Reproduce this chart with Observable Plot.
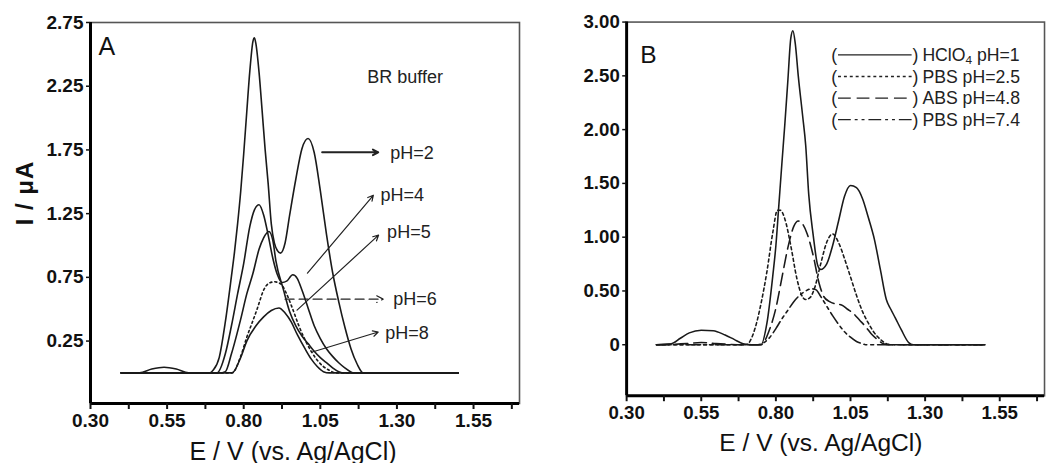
<!DOCTYPE html>
<html><head><meta charset="utf-8">
<script src="https://cdn.jsdelivr.net/npm/d3@7"></script>
<script src="https://cdn.jsdelivr.net/npm/@observablehq/plot@0.6"></script>
<style>
html,body{margin:0;padding:0;background:#fff;overflow:hidden;}
#wrap{position:relative;width:1046px;height:463px;overflow:hidden;background:#fff;}
#a{position:absolute;left:0;top:0;}
#b{position:absolute;left:530px;top:0;}
</style></head><body>
<div id="wrap"><div id="a"></div><div id="b"></div></div>
<script>
const FONT = "'Liberation Sans', Arial, Helvetica, sans-serif";

// ---------- Panel A: BR buffer, pH series ----------
const A_pH2 = [[0.40,0],[0.46,0],[0.50,0.03],[0.54,0.045],[0.58,0.03],[0.62,0],[0.69,0],[0.70,0.02],[0.72,0.12],[0.74,0.40],[0.76,0.76],[0.77,0.95],[0.78,1.17],[0.79,1.42],[0.80,1.72],[0.81,2.05],[0.82,2.37],[0.83,2.60],[0.835,2.63],[0.84,2.58],[0.85,2.36],[0.86,2.06],[0.87,1.75],[0.88,1.48],[0.89,1.17],[0.90,1.02],[0.91,0.96],[0.92,0.94],[0.935,1.02],[0.95,1.24],[0.97,1.52],[0.99,1.76],[1.01,1.84],[1.03,1.73],[1.05,1.43],[1.07,1.09],[1.09,0.79],[1.11,0.56],[1.13,0.36],[1.15,0.19],[1.17,0.07],[1.19,0],[1.50,0]];
const A_pH4 = [[0.40,0],[0.70,0],[0.713,0],[0.74,0.15],[0.76,0.37],[0.78,0.62],[0.80,0.86],[0.82,1.15],[0.835,1.28],[0.85,1.32],[0.865,1.24],[0.88,1.08],[0.895,0.90],[0.91,0.77],[0.925,0.71],[0.94,0.72],[0.96,0.77],[0.975,0.74],[0.99,0.65],[1.01,0.51],[1.03,0.37],[1.05,0.27],[1.07,0.19],[1.09,0.13],[1.11,0.08],[1.13,0.04],[1.16,0],[1.50,0]];
const A_pH5 = [[0.40,0],[0.72,0],[0.74,0.01],[0.76,0.15],[0.79,0.42],[0.81,0.62],[0.83,0.78],[0.85,0.97],[0.865,1.06],[0.882,1.11],[0.895,1.04],[0.905,0.88],[0.93,0.65],[0.95,0.48],[0.97,0.37],[0.99,0.29],[1.01,0.23],[1.03,0.17],[1.05,0.12],[1.07,0.08],[1.09,0.04],[1.11,0.01],[1.13,0],[1.50,0]];
const A_pH6 = [[0.40,0],[0.75,0],[0.762,0],[0.79,0.13],[0.81,0.28],[0.83,0.41],[0.845,0.51],[0.865,0.65],[0.88,0.70],[0.90,0.715],[0.92,0.70],[0.94,0.62],[0.96,0.50],[0.98,0.37],[1.00,0.26],[1.02,0.17],[1.04,0.10],[1.06,0.05],[1.08,0.02],[1.10,0],[1.50,0]];
const A_pH8 = [[0.40,0],[0.75,0],[0.762,0],[0.79,0.12],[0.81,0.25],[0.84,0.37],[0.865,0.44],[0.89,0.49],[0.915,0.51],[0.935,0.47],[0.955,0.40],[0.975,0.30],[1.00,0.19],[1.02,0.11],[1.04,0.05],[1.06,0.01],[1.08,0],[1.50,0]];
const seriesA = [
  {name:"pH=2", pts:A_pH2, dash:null},
  {name:"pH=4", pts:A_pH4, dash:null},
  {name:"pH=5", pts:A_pH5, dash:null},
  {name:"pH=6", pts:A_pH6, dash:"2,3"},
  {name:"pH=8", pts:A_pH8, dash:null}
];
// annotation labels (E, I) and arrows
const labelsA = [
  {text:"BR buffer", E:1.203, I:2.32},
  {text:"pH=2", E:1.278, I:1.723},
  {text:"pH=4", E:1.246, I:1.394},
  {text:"pH=5", E:1.268, I:1.104},
  {text:"pH=6", E:1.288, I:0.579},
  {text:"pH=8", E:1.262, I:0.313}
];
const arrowsA = [
  {E1:1.056, I1:1.731, E2:1.239, I2:1.731, w:2, dash:null},
  {E1:1.008, I1:0.783, E2:1.223, I2:1.394, w:1.2, dash:null},
  {E1:0.974, I1:0.493, E2:1.240, I2:1.081, w:1.2, dash:null},
  {E1:0.935, I1:0.579, E2:1.255, I2:0.579, w:1.2, dash:"9,5"},
  {E1:1.024, I1:0.164, E2:1.239, I2:0.321, w:1.2, dash:null}
];

// ---------- Panel B: different buffers ----------
const B_HClO4 = [[0.40,0],[0.45,0.01],[0.48,0.06],[0.51,0.11],[0.55,0.135],[0.59,0.13],[0.63,0.09],[0.66,0.05],[0.69,0.01],[0.72,0],[0.75,0],[0.77,0.20],[0.79,0.65],[0.80,0.92],[0.81,1.30],[0.82,1.68],[0.83,2.05],[0.84,2.45],[0.85,2.85],[0.857,2.92],[0.865,2.80],[0.875,2.50],[0.89,2.12],[0.90,1.85],[0.91,1.40],[0.925,1.02],[0.94,0.74],[0.95,0.70],[0.97,0.75],[0.99,0.92],[1.01,1.15],[1.03,1.38],[1.05,1.48],[1.07,1.46],[1.09,1.36],[1.11,1.18],[1.13,0.98],[1.15,0.70],[1.17,0.42],[1.185,0.33],[1.20,0.25],[1.22,0.14],[1.245,0.02],[1.26,0],[1.50,0]];
const B_PBS25 = [[0.40,0],[0.70,0],[0.73,0.15],[0.75,0.38],[0.77,0.68],[0.79,1.05],[0.805,1.25],[0.815,1.25],[0.83,1.17],[0.85,0.92],[0.87,0.62],[0.885,0.47],[0.90,0.42],[0.915,0.44],[0.93,0.53],[0.95,0.75],[0.97,0.95],[0.99,1.03],[1.01,0.95],[1.03,0.80],[1.05,0.63],[1.07,0.46],[1.09,0.31],[1.11,0.20],[1.13,0.11],[1.15,0.05],[1.17,0.01],[1.19,0],[1.50,0]];
const B_ABS48 = [[0.40,0],[0.50,0.01],[0.55,0.02],[0.60,0.01],[0.70,0],[0.75,0],[0.78,0.15],[0.80,0.34],[0.82,0.62],[0.84,0.90],[0.86,1.10],[0.875,1.15],[0.89,1.12],[0.905,1.03],[0.925,0.83],[0.945,0.57],[0.96,0.45],[0.98,0.40],[1.00,0.38],[1.02,0.37],[1.04,0.33],[1.06,0.29],[1.08,0.23],[1.10,0.17],[1.12,0.10],[1.14,0.05],[1.16,0.01],[1.18,0],[1.50,0]];
const B_PBS74 = [[0.40,0],[0.74,0],[0.76,0.02],[0.78,0.07],[0.80,0.15],[0.82,0.24],[0.84,0.32],[0.86,0.40],[0.88,0.46],[0.90,0.50],[0.92,0.52],[0.935,0.51],[0.95,0.45],[0.97,0.36],[0.99,0.27],[1.01,0.19],[1.03,0.12],[1.05,0.07],[1.07,0.03],[1.09,0.01],[1.10,0],[1.50,0]];
const seriesB = [
  {name:"HClO4 pH=1", main:"HClO", sub:"4", rest:" pH=1", pts:B_HClO4, dash:null},
  {name:"PBS pH=2.5", main:"PBS pH=2.5", sub:"", rest:"", pts:B_PBS25, dash:"3,3"},
  {name:"ABS pH=4.8", main:"ABS pH=4.8", sub:"", rest:"", pts:B_ABS48, dash:"13,6"},
  {name:"PBS pH=7.4", main:"PBS pH=7.4", sub:"", rest:"", pts:B_PBS74, dash:"13,4,3,4,3,4"}
];

// ---------- axis ticks ----------
const xTicks = [0.30,0.55,0.80,1.05,1.30,1.55];
const xMinor = [0.425,0.675,0.925,1.175,1.425,1.675];
const yTicksA = [0.25,0.75,1.25,1.75,2.25,2.75];
const yTicksB = [0,0.5,1.0,1.5,2.0,2.5,3.0];
const xLabel = "E / V (vs. Ag/AgCl)";
const yLabel = "I / μA";

const fmt2 = d => d === 0 ? "0" : d.toFixed(2);

function axes(yTicks, ymin) {
  return [
    Plot.frame({stroke:"#555", strokeWidth:1.6}),
    Plot.ruleY([ymin], {stroke:"#000", strokeWidth:3}),
    Plot.ruleX([0.3], {stroke:"#000", strokeWidth:3}),
    Plot.axisX({ticks:xTicks, tickSize:6, tickPadding:4, tickFormat:fmt2, fontWeight:"bold", fontSize:19, strokeWidth:2, label:null}),
    Plot.axisX({ticks:xMinor, tickSize:6, tickFormat:() => "", strokeWidth:2, label:null}),
    Plot.axisY({ticks:yTicks, tickSize:4, tickPadding:3, tickFormat:fmt2, fontWeight:"bold", fontSize:19, strokeWidth:1.5, label:null})
  ];
}
function curves(series) {
  return series.map(s => Plot.line(s.pts.map(([E,I]) => ({E, I})), {
    x:"E", y:"I", curve:"monotone-x", stroke:"#1a1a1a", strokeWidth:1.6,
    strokeDasharray: s.dash || undefined
  }));
}

const plotA = Plot.plot({
  width:530, height:463,
  marginLeft:90, marginRight:11, marginTop:22, marginBottom:60,
  style:{fontFamily:FONT, fontSize:"18px", color:"#111", background:"transparent", overflow:"visible"},
  x:{domain:[0.3,1.7]},
  y:{domain:[-0.24,2.75]},
  marks:[
    ...curves(seriesA),
    ...axes(yTicksA, -0.24),
    Plot.arrow(arrowsA.filter(d => !d.dash), {x1:"E1", y1:"I1", x2:"E2", y2:"I2", stroke:"#222", strokeWidth:d => d.w, headLength:9, headAngle:55}),
    Plot.arrow(arrowsA.filter(d => d.dash), {x1:"E1", y1:"I1", x2:"E2", y2:"I2", stroke:"#222", strokeWidth:1.2, strokeDasharray:"9,5", headLength:9, headAngle:55}),
    Plot.text(labelsA, {x:"E", y:"I", text:"text", textAnchor:"start", lineAnchor:"middle", fontSize:18, fill:"#222"}),
    Plot.text(["A"], {frameAnchor:"top-left", dx:8, dy:15, lineAnchor:"top", textAnchor:"start", fontSize:25, fill:"#111"}),
    Plot.text([xLabel], {frameAnchor:"bottom", dx:-12, dy:56, lineAnchor:"bottom", fontSize:25, fill:"#111"})
  ]
});
document.getElementById("a").appendChild(plotA);

// rotated y-axis label of panel A
d3.select(plotA).append("text")
  .attr("transform", "translate(24,193) rotate(-90)")
  .attr("text-anchor", "middle").attr("dominant-baseline", "central")
  .attr("font-family", FONT).attr("font-size", 24).attr("font-weight", "bold")
  .attr("letter-spacing", 1).attr("fill", "#111")
  .text(yLabel);

const plotB = Plot.plot({
  width:526, height:463,
  marginLeft:98, marginRight:2, marginTop:22, marginBottom:60,
  style:{fontFamily:FONT, fontSize:"18px", color:"#111", background:"transparent", overflow:"visible"},
  x:{domain:[0.3,1.7]},
  y:{domain:[-0.475,3.0]},
  marks:[
    ...curves(seriesB),
    ...axes(yTicksB, -0.475),
    Plot.text(["B"], {frameAnchor:"top-left", dx:14, dy:24, lineAnchor:"top", textAnchor:"start", fontSize:25, fill:"#111"}),
    Plot.text([xLabel], {frameAnchor:"bottom", dx:-15, dy:56, lineAnchor:"bottom", fontSize:25, fill:"#111"})
  ]
});
document.getElementById("b").appendChild(plotB);

// legend for panel B
const rowsY = [56, 78, 100, 122];
const lg = d3.select(plotB).append("g")
  .attr("font-family", FONT).attr("font-size", 18).attr("fill", "#222")
  .attr("text-anchor", "start");
seriesB.forEach((s, i) => {
  const y = rowsY[i];
  lg.append("text").attr("x", 307).attr("y", y + 6.5).text("(");
  lg.append("line").attr("x1", 314).attr("x2", 389).attr("y1", y).attr("y2", y)
    .attr("stroke", "#222").attr("stroke-width", 1.4)
    .attr("stroke-dasharray", s.dash);
  lg.append("text").attr("x", 390).attr("y", y + 6.5).text(")");
  const t = lg.append("text").attr("x", 400).attr("y", y + 6.5);
  t.append("tspan").text(s.main);
  if (s.sub) {
    t.append("tspan").attr("font-size", 12).attr("dy", 3).text(s.sub);
    t.append("tspan").attr("dy", -3).text(s.rest);
  }
});
</script>
</body></html>
